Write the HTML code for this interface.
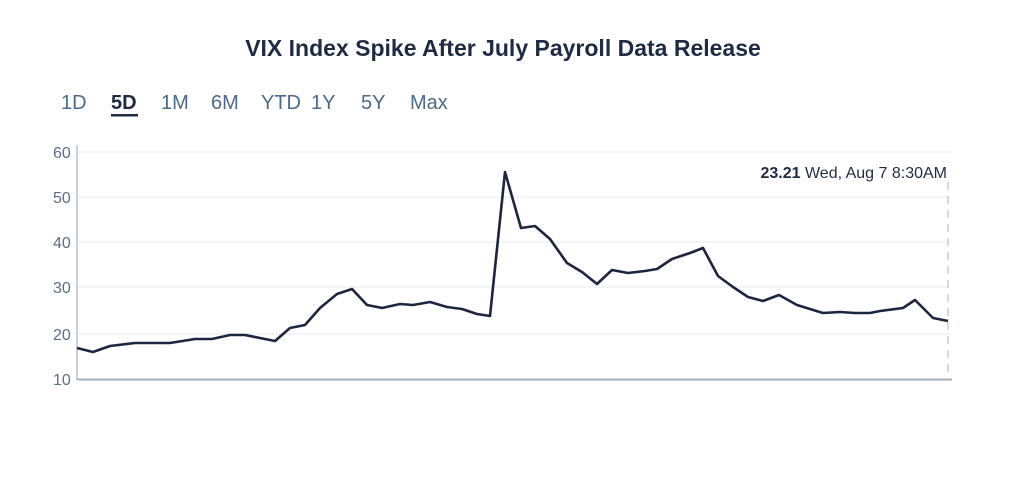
<!DOCTYPE html>
<html><head><style>
body{margin:0;background:#fff;width:1024px;height:473px;overflow:hidden;font-family:"Liberation Sans",sans-serif}
</style></head><body>
<svg width="1024" height="473" xmlns="http://www.w3.org/2000/svg" font-family="Liberation Sans, sans-serif">
<text x="503" y="56" text-anchor="middle" font-size="23" font-weight="bold" fill="#1f2b45">VIX Index Spike After July Payroll Data Release</text>
<g font-size="20" fill="#4d6a8a">
<text x="61" y="109">1D</text>
<text x="111" y="109" fill="#1f2b45" font-weight="bold">5D</text>
<text x="161" y="109">1M</text>
<text x="211" y="109">6M</text>
<text x="261" y="109">YTD</text>
<text x="311" y="109">1Y</text>
<text x="361" y="109">5Y</text>
<text x="410" y="109">Max</text>
</g>
<rect x="111" y="114" width="27" height="2.5" fill="#1f2b45"/>
<g stroke="#eef0f3" stroke-width="1.5">
<line x1="78" y1="152" x2="950" y2="152"/>
<line x1="78" y1="197" x2="950" y2="197"/>
<line x1="78" y1="242" x2="950" y2="242"/>
<line x1="78" y1="287" x2="950" y2="287"/>
<line x1="78" y1="334" x2="950" y2="334"/>
</g>
<g font-size="16" fill="#5a6f88" text-anchor="start">
<text x="53" y="158">60</text>
<text x="53" y="203">50</text>
<text x="53" y="248">40</text>
<text x="53" y="293">30</text>
<text x="53" y="340">20</text>
<text x="53" y="385">10</text>
</g>
<line x1="77" y1="145" x2="77" y2="380" stroke="#b8c0cc" stroke-width="1.5"/>
<line x1="77" y1="379.5" x2="952" y2="379.5" stroke="#a8b0bc" stroke-width="2"/>
<line x1="948" y1="182" x2="948" y2="376" stroke="#c8ccd2" stroke-width="1.5" stroke-dasharray="8,6"/>
<text x="947" y="178" text-anchor="end" font-size="16" fill="#1f2b45"><tspan font-weight="bold">23.21</tspan> Wed, Aug 7 8:30AM</text>
<polyline fill="none" stroke="#1c2640" stroke-width="2.6" stroke-linejoin="round" points="77,348 93,352 110,346 135,343 170,343 195,339 212,339 230,335 245,335 275,341 290,328 305,325 320,308 337,294 352,289 367,305 382,308 400,304 413,305 430,302 447,307 462,309 477,314 490,316 505,172 521,228 535,226 550,239 567,263 582,272 597,284 612,270 628,273 645,271 657,269 672,259 690,253 703,248 718,276 733,287 748,297 763,301 779,295 797,305 810,309 823,313 840,312 855,313 870,313 880,311 903,308 915,300 933,318 948,321"/>
</svg>
</body></html>
